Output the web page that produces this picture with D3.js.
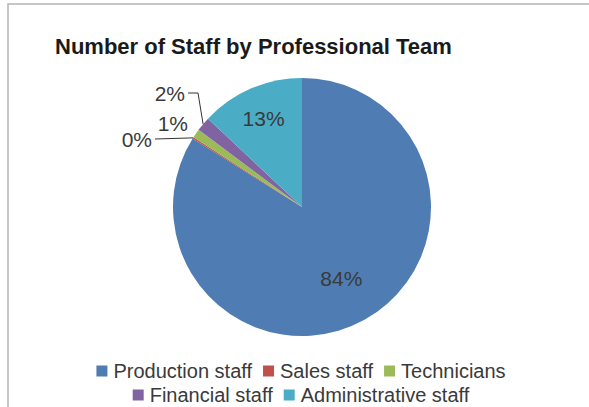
<!DOCTYPE html>
<html>
<head>
<meta charset="utf-8">
<script src="https://cdn.jsdelivr.net/npm/d3@7"></script>
<style>
  body { margin: 0; background: #fff; }
  svg { display: block; font-family: "Liberation Sans", Arial, sans-serif; }
  .title { font-weight: bold; fill: #1a1a1a; }
  .pct { fill: #3a3a3a; }
  .legend-label { fill: #3a3a3a; }
</style>
</head>
<body>
<div id="wrapper"></div>
<script>
// chart data
const categories = ["Production staff", "Sales staff", "Technicians", "Financial staff", "Administrative staff"]
const shares = [83.9, 0.2, 1.1, 1.8, 13.0]
const colors = ["#4f7db3", "#c0504d", "#9bbb59", "#8064a2", "#4bacc6"]
const legendRows = [[0, 1, 2], [3, 4]]

function drawPie() {
  const width = 589
  const height = 407
  const cx = 302, cy = 207, radius = 129

  const svg = d3.select("#wrapper")
    .append("svg")
    .attr("width", width)
    .attr("height", height)

  // chart frame (only top and left edges are visible)
  svg.append("path")
    .attr("d", `M8,${height} V4 H${width}`)
    .attr("fill", "none")
    .attr("stroke", "#b4b4b4")
    .attr("stroke-width", 1.5)

  svg.append("text")
    .attr("class", "title")
    .attr("x", 55)
    .attr("y", 54)
    .attr("font-size", 22)
    .text("Number of Staff by Professional Team")

  const pie = d3.pie().sort(null).value(d => d)
  const arcs = pie(shares)
  const arc = d3.arc().innerRadius(0).outerRadius(radius)

  const g = svg.append("g").attr("transform", `translate(${cx},${cy})`)
  g.selectAll("path.slice")
    .data(arcs)
    .enter().append("path")
    .attr("class", "slice")
    .attr("d", arc)
    .attr("fill", (d, i) => colors[i])

  const fmt = v => `${Math.round(v)}%`
  const edgePoint = (d, r) => {
    const a = (d.startAngle + d.endAngle) / 2
    return [Math.sin(a) * r, -Math.cos(a) * r]
  }

  // label placement per slice: inside (radius factor) or outside with leader
  const labelLayout = [
    {type: "in", k: 0.63},
    {type: "out", tx: -150, ty: -68, line: "straight"},
    {type: "out", tx: -114, ty: -84},
    {type: "out", tx: -117, ty: -114, line: "elbow", ex: -104},
    {type: "in", k: 0.75},
  ]

  arcs.forEach((d, i) => {
    const lay = labelLayout[i]
    if (lay.type == "in") {
      const [x, y] = edgePoint(d, radius * lay.k)
      g.append("text")
        .attr("class", "pct")
        .attr("x", x).attr("y", y)
        .attr("font-size", 21)
        .attr("text-anchor", "middle")
        .attr("dominant-baseline", "central")
        .text(fmt(d.data))
      return
    }
    g.append("text")
      .attr("class", "pct")
      .attr("x", lay.tx).attr("y", lay.ty)
      .attr("font-size", 21)
      .attr("text-anchor", "end")
      .attr("dominant-baseline", "central")
      .text(fmt(d.data))
    const [px, py] = edgePoint(d, radius)
    if (lay.line == "straight") {
      g.append("path")
        .attr("d", `M${lay.tx + 3},${lay.ty} L${px},${py}`)
        .attr("fill", "none").attr("stroke", "#333").attr("stroke-width", 1)
    } else if (lay.line == "elbow") {
      g.append("path")
        .attr("d", `M${lay.tx + 3},${lay.ty} H${lay.ex} L${px},${py}`)
        .attr("fill", "none").attr("stroke", "#333").attr("stroke-width", 1)
    }
  })

  // legend, rows centred
  const legendY = [371, 395]
  const sq = 11, gapSq = 6, gapItem = 11
  legendRows.forEach((row, r) => {
    const lg = svg.append("g")
    let x = 0
    row.forEach(i => {
      lg.append("rect")
        .attr("x", x).attr("y", legendY[r] - sq / 2)
        .attr("width", sq).attr("height", sq)
        .attr("fill", colors[i])
      const t = lg.append("text")
        .attr("class", "legend-label")
        .attr("x", x + sq + gapSq)
        .attr("y", legendY[r])
        .attr("dominant-baseline", "central")
        .attr("font-size", 20)
        .text(categories[i])
      x += sq + gapSq + t.node().getComputedTextLength() + gapItem
    })
    const w = x - gapItem
    lg.attr("transform", `translate(${301 - w / 2},0)`)
  })
}
drawPie()
</script>
</body>
</html>
